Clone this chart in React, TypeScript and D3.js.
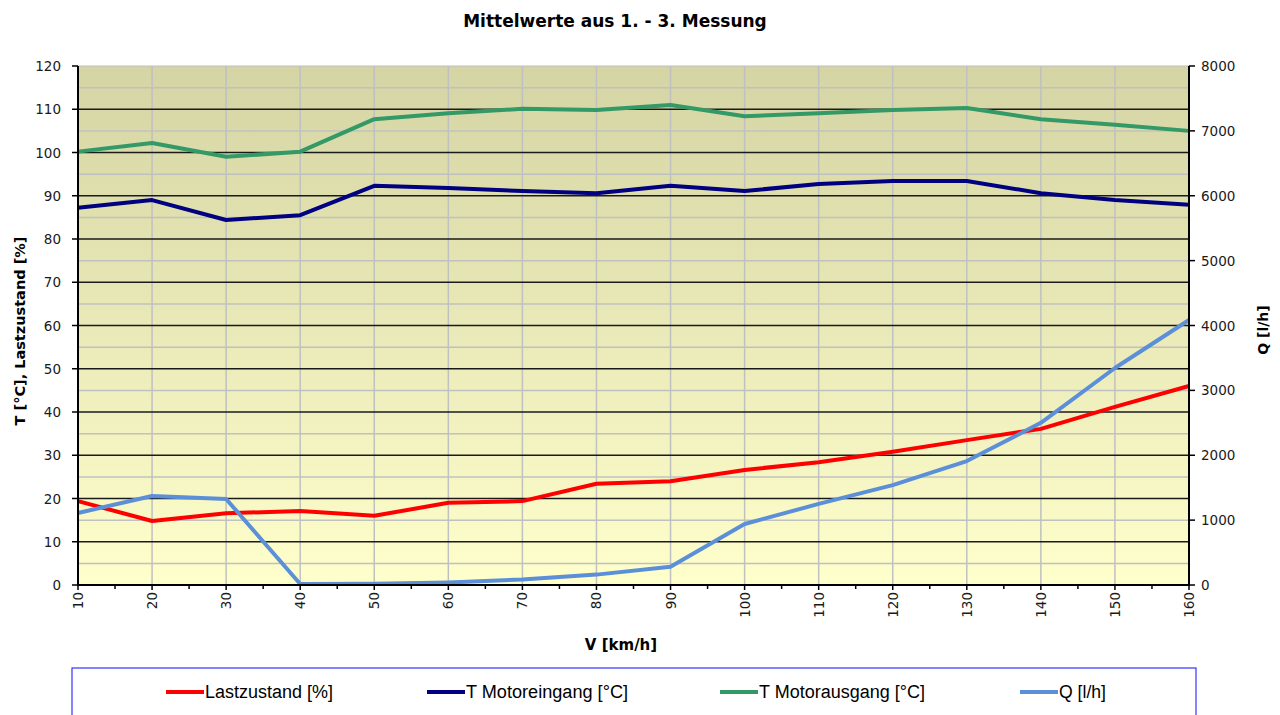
import React from "react";
import * as d3 from "d3";

const speeds = [10, 20, 30, 40, 50, 60, 70, 80, 90, 100, 110, 120, 130, 140, 150, 160];
const lastzustand = [19.4, 14.8, 16.6, 17.1, 16.0, 19.0, 19.4, 23.4, 24.0, 26.6, 28.4, 30.8, 33.5, 36.1, 41.2, 46.0];
const tMotoreingang = [87.2, 89.0, 84.4, 85.5, 92.3, 91.8, 91.1, 90.6, 92.3, 91.1, 92.7, 93.4, 93.4, 90.6, 89.0, 87.9];
const tMotorausgang = [100.2, 102.2, 99.0, 100.2, 107.7, 109.1, 110.1, 109.8, 111.0, 108.4, 109.1, 109.8, 110.3, 107.7, 106.4, 105.0];
const qFlow = [1110, 1372, 1326, 15, 20, 40, 85, 160, 280, 940, 1250, 1540, 1910, 2500, 3345, 4085];
const leftTicks = [0, 10, 20, 30, 40, 50, 60, 70, 80, 90, 100, 110, 120];
const rightTicks = [0, 1000, 2000, 3000, 4000, 5000, 6000, 7000, 8000];

const W = 1280, H = 715;
const L = 78, R = 1189, T = 66, B = 585;

export default function App() {
  const x = d3.scaleLinear().domain([10, 160]).range([L, R]);
  const yL = d3.scaleLinear().domain([0, 120]).range([B, T]);
  const yR = d3.scaleLinear().domain([0, 8000]).range([B, T]);
  const lineL = d3.line<number>().x((_, i) => x(speeds[i])).y((d) => yL(d));
  const lineR = d3.line<number>().x((_, i) => x(speeds[i])).y((d) => yR(d));
  const minorY = d3.range(5, 120, 10);
  const majorY = leftTicks.filter((t) => t > 0 && t < 120);
  const xMinor = d3.range(15, 160, 10);
  const wide = "'DejaVu Sans', Verdana, sans-serif";
  const arial = "Arial, 'Liberation Sans', sans-serif";

  const series = [
    { name: "Lastzustand [%]", color: "#ff0000", lx: 166, tl: 128, path: lineL(lastzustand) },
    { name: "T Motoreingang [°C]", color: "#000080", lx: 427, tl: 162, path: lineL(tMotoreingang) },
    { name: "T Motorausgang [°C]", color: "#339966", lx: 720, tl: 166, path: lineL(tMotorausgang) },
    { name: "Q [l/h]", color: "#5b8fd8", lx: 1020, tl: 47, path: lineR(qFlow) },
  ];

  return (
    <svg width={W} height={H} style={{ position: "absolute", left: 0, top: 0, background: "#fff" }} fontFamily={wide}>
      <defs>
        <linearGradient id="bg" x1="0" y1="0" x2="0" y2="1">
          <stop offset="0" stopColor="#d4d4a4" />
          <stop offset="1" stopColor="#ffffcc" />
        </linearGradient>
      </defs>
      <text x={615} y={27} textAnchor="middle" fontSize={17} fontWeight="bold" fill="#000">
        Mittelwerte aus 1. - 3. Messung
      </text>
      <rect x={L} y={T} width={R - L} height={B - T} fill="url(#bg)" />
      {minorY.map((v) => (
        <line key={"mn" + v} x1={L} x2={R} y1={yL(v)} y2={yL(v)} stroke="#c0c0c0" strokeWidth={1.5} />
      ))}
      {speeds.slice(1, -1).map((s) => (
        <line key={"vx" + s} x1={x(s)} x2={x(s)} y1={T} y2={B} stroke="#c0c0c0" strokeWidth={1.5} />
      ))}
      {majorY.map((v) => (
        <line key={"mj" + v} x1={L} x2={R} y1={yL(v)} y2={yL(v)} stroke="#1a1a1a" strokeWidth={1.3} />
      ))}
      <line x1={L} x2={R} y1={T} y2={T} stroke="#c0c0c0" strokeWidth={1} />
      {series.map((s) => (
        <path key={s.name} d={s.path || ""} fill="none" stroke={s.color} strokeWidth={4} strokeLinejoin="round" />
      ))}
      <line x1={L} x2={L} y1={T} y2={B + 1} stroke="#000" strokeWidth={2} />
      <line x1={R} x2={R} y1={T} y2={B + 1} stroke="#000" strokeWidth={2} />
      <line x1={L - 1} x2={R + 1} y1={B} y2={B} stroke="#000" strokeWidth={2} />
      {leftTicks.map((v) => (
        <g key={"lt" + v}>
          <line x1={L - 6} x2={L} y1={yL(v)} y2={yL(v)} stroke="#000" strokeWidth={1.5} />
          <text x={61} y={yL(v) + 5} textAnchor="end" fontSize={13.5} fill="#1a1a1a">{v}</text>
        </g>
      ))}
      {rightTicks.map((v) => (
        <g key={"rt" + v}>
          <line x1={R} x2={R + 6} y1={yR(v)} y2={yR(v)} stroke="#000" strokeWidth={1.5} />
          <text x={1201} y={yR(v) + 5} textAnchor="start" fontSize={13.5} fill="#1a1a1a">{v}</text>
        </g>
      ))}
      {speeds.map((s) => (
        <g key={"xt" + s}>
          <line x1={x(s)} x2={x(s)} y1={B} y2={B + 5} stroke="#000" strokeWidth={1.5} />
          <text transform={`translate(${x(s) + 5},${B + 7}) rotate(-90)`} textAnchor="end" fontSize={13.5} fill="#1a1a1a">{s}</text>
        </g>
      ))}
      {xMinor.map((s) => (
        <line key={"xm" + s} x1={x(s)} x2={x(s)} y1={B} y2={B + 4} stroke="#000" strokeWidth={1.5} />
      ))}
      <text x={621} y={650} textAnchor="middle" fontSize={15} fontWeight="bold">V [km/h]</text>
      <text transform={`translate(25,331) rotate(-90)`} textAnchor="middle" fontSize={14.5} fontWeight="bold">
        T [°C], Lastzustand [%]
      </text>
      <text transform={`translate(1268,330) rotate(-90)`} textAnchor="middle" fontSize={14} fontWeight="bold">
        Q [l/h]
      </text>
      <rect x={72} y={668} width={1124} height={60} fill="#fff" stroke="#3333ff" strokeWidth={1.2} />
      {series.map((s) => (
        <g key={"lg" + s.name}>
          <line x1={s.lx} x2={s.lx + 38} y1={692} y2={692} stroke={s.color} strokeWidth={4} />
          <text x={s.lx + 39} y={698} fontSize={18} fontFamily={arial} fill="#000" textLength={s.tl} lengthAdjust="spacingAndGlyphs">{s.name}</text>
        </g>
      ))}
    </svg>
  );
}
